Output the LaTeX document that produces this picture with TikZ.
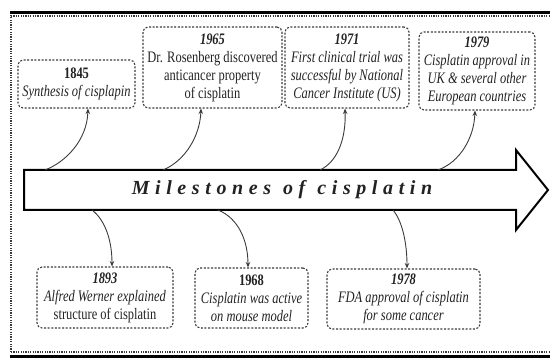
\documentclass[tikz,border=0pt]{standalone}
\usepackage{fontspec}
\setmainfont{Liberation Serif}[FakeStretch=0.78]
\newfontfamily\titlefont{Liberation Serif}[LetterSpace=28]
\usetikzlibrary{arrows.meta}
\definecolor{txt}{HTML}{222222}
\definecolor{ln}{HTML}{3A3A3A}
\tikzset{
  evbox/.style={draw=ln, line width=1.1pt, dash pattern=on 2pt off 1.6pt, rounded corners=5pt,
    align=center, inner sep=1pt, text=txt, font=\fontsize{16}{18}\selectfont},
  link/.style={draw=ln, line width=0.9pt, -{Stealth[length=5.5pt,width=4.5pt]}},
}
\begin{document}
\begin{tikzpicture}[x=1pt,y=-1pt]
\useasboundingbox (0,0) rectangle (550,358);
% frame
\draw[line width=1.2pt, dash pattern=on 1.2pt off 1.2pt, ln] (11,352) -- (11,16) -- (550,16);
\draw[line width=1.2pt, dash pattern=on 1.2pt off 1.2pt, ln] (11,352) -- (550,352);
\draw[line width=3pt] (10,12.5) -- (550,12.5);
\draw[line width=3pt] (10,356.5) -- (550,356.5);
% big arrow
\draw[line width=2pt, fill=white, line join=miter] (24,170) -- (516,170) -- (516,150) -- (548,190) -- (516,230) -- (516,210) -- (24,210) -- cycle;
\node[font=\fontsize{20}{24}\selectfont, text=txt] (title) at (282,190) {\titlefont\bfseries\itshape Milestones\hspace{12pt}of\hspace{12pt}cisplatin};
% shaft coordinates
\coordinate (u1) at (45,170);
\coordinate (u2) at (163,170);
\coordinate (u3) at (320,170);
\coordinate (u4) at (438,170);
\coordinate (d1) at (92,210);
\coordinate (d2) at (218,210);
\coordinate (d3) at (393,210);
% boxes
\node[evbox, minimum width=117pt, minimum height=48pt] (b1845) at (76.5,84) {\textbf{1845}\\\textit{Synthesis of cisplapin}};
\node[evbox, minimum width=139pt, minimum height=81pt] (b1965) at (212.5,67.5) {\textbf{\textit{1965}}\\Dr. Rosenberg discovered\\anticancer property\\of cisplatin};
\node[evbox, minimum width=124pt, minimum height=81pt] (b1971) at (347,67.5) {\textbf{\textit{1971}}\\\textit{First clinical trial was}\\\textit{successful by National}\\\textit{Cancer Institute (US)}};
\node[evbox, minimum width=116pt, minimum height=78pt] (b1979) at (477,71) {\textbf{\textit{1979}}\\\textit{Cisplatin approval in}\\\textit{UK \& several other}\\\textit{European countries}};
\node[evbox, minimum width=136pt, minimum height=61pt] (b1893) at (105,297.5) {\textbf{\textit{1893}}\\\textit{Alfred Werner explained}\\structure of cisplatin};
\node[evbox, minimum width=113pt, minimum height=60pt] (b1968) at (251.5,298) {\textbf{1968}\\\textit{Cisplatin was active}\\\textit{on mouse model}};
\node[evbox, minimum width=153pt, minimum height=60pt] (b1978) at (403.5,299) {\textbf{\textit{1978}}\\\textit{FDA approval of cisplatin}\\\textit{for some cancer}};
% connectors
\draw[link] (u1) .. controls (66,162) and (87,140) .. ([xshift=11.5pt]b1845.south);
\draw[link] (u2) .. controls (185,161) and (200,136) .. ([xshift=-11.5pt]b1965.south);
\draw[link] (u3) .. controls (339,161) and (346,136) .. ([xshift=-2pt]b1971.south);
\draw[link] (u4) .. controls (460,162) and (474,138) .. ([xshift=-2pt]b1979.south);
\draw[link] (d1) .. controls (105,220) and (112,240) .. ([xshift=7pt]b1893.north);
\draw[link] (d2) .. controls (238,218) and (248,240) .. ([xshift=-3.5pt]b1968.north);
\draw[link] (d3) .. controls (403,222) and (407,245) .. ([xshift=3.5pt]b1978.north);
\end{tikzpicture}
\end{document}
